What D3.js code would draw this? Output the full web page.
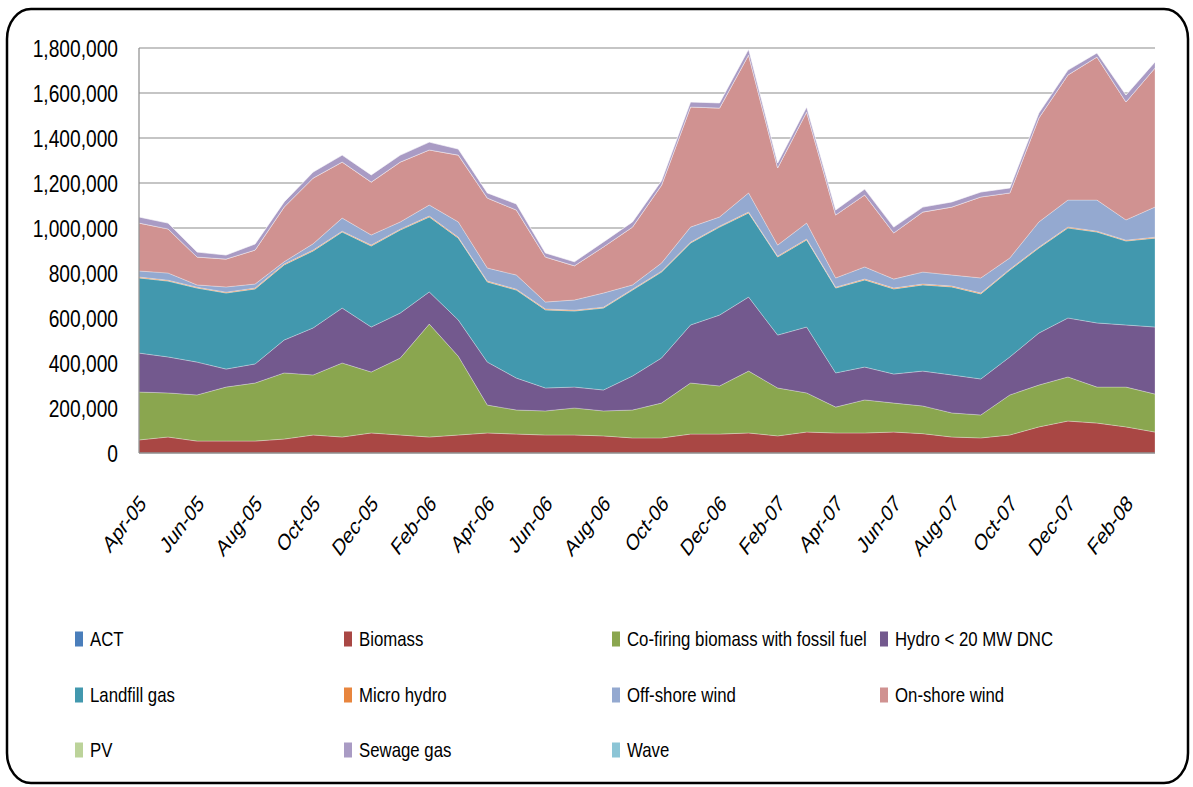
<!DOCTYPE html>
<html>
<head>
<meta charset="utf-8">
<script src="https://cdn.jsdelivr.net/npm/d3@7"></script>
<style>
  html, body { margin: 0; padding: 0; background: #ffffff; }
  svg { display: block; }
  text { font-family: "Liberation Sans", Arial, sans-serif; fill: #000; }
</style>
</head>
<body>
<svg id="chart" width="1193" height="787"></svg>
<script>
// ---- data ----
const months = ["Apr-05","May-05","Jun-05","Jul-05","Aug-05","Sep-05","Oct-05","Nov-05","Dec-05",
  "Jan-06","Feb-06","Mar-06","Apr-06","May-06","Jun-06","Jul-06","Aug-06","Sep-06","Oct-06","Nov-06","Dec-06",
  "Jan-07","Feb-07","Mar-07","Apr-07","May-07","Jun-07","Jul-07","Aug-07","Sep-07","Oct-07","Nov-07","Dec-07",
  "Jan-08","Feb-08","Mar-08"];
const tickLabels = ["Apr-05","Jun-05","Aug-05","Oct-05","Dec-05","Feb-06","Apr-06","Jun-06","Aug-06",
  "Oct-06","Dec-06","Feb-07","Apr-07","Jun-07","Aug-07","Oct-07","Dec-07","Feb-08"];
const yTicks = [0, 200000, 400000, 600000, 800000, 1000000, 1200000, 1400000, 1600000, 1800000];

const seriesNames = ["ACT","Biomass","Co-firing biomass with fossil fuel","Hydro < 20 MW DNC","Landfill gas",
  "Micro hydro","Off-shore wind","On-shore wind","PV","Sewage gas","Wave"];
const seriesColors = ["#4A7EBB","#A94744","#8AA64F","#73598E","#4298AE","#E8853D","#94A9D0","#D09291",
  "#BCD39A","#A99BC4","#8CC5D6"];

const act       = [0,0,0,0,0,0,0,0,0,0,0,0,0,0,0,0,0,0,0,0,0,0,0,0,0,0,0,0,0,0,0,0,0,0,0,0];
const biomass   = [58000,71000,53000,53000,53000,62000,80000,71000,89000,80000,71000,80000,89000,84000,80000,80000,76000,67000,
  67000,84000,84000,89000,76000,93000,89000,89000,93000,86000,71000,67000,80000,116000,142000,133000,116000,93000];
const cofiring  = [213000,196000,205000,240000,258000,294000,267000,329000,271000,342000,502000,350000,124000,107000,107000,120000,111000,124000,
  155000,227000,214000,275000,213000,174000,115000,147000,129000,123000,107000,102000,178000,186000,196000,160000,177000,169000];
const hydro     = [173000,160000,146000,80000,85000,146000,209000,244000,200000,200000,143000,161000,191000,142000,102000,93000,93000,151000,
  200000,258000,315000,329000,235000,293000,152000,146000,129000,155000,169000,160000,169000,231000,262000,285000,276000,298000];
const landfill  = [334000,337000,329000,338000,333000,334000,342000,338000,360000,369000,333000,364000,356000,391000,347000,338000,364000,382000,
  382000,364000,391000,374000,347000,387000,377000,387000,378000,383000,391000,378000,386000,378000,400000,404000,373000,395000];
const microHydro= [4000,4000,4000,4000,4000,4000,4000,4000,4000,4000,4000,4000,4000,4000,4000,4000,4000,4000,
  4000,4000,4000,4000,4000,4000,4000,4000,4000,4000,4000,4000,4000,4000,4000,4000,4000,4000];
const offshore  = [27000,32000,10000,23000,18000,10000,28000,58000,45000,32000,49000,68000,58000,63000,31000,45000,63000,19000,
  36000,67000,41000,85000,49000,71000,41000,54000,40000,53000,49000,67000,50000,112000,120000,138000,90000,134000];
const onshore   = [213000,196000,124000,124000,151000,243000,292000,249000,235000,266000,245000,297000,311000,289000,200000,152000,205000,257000,
  346000,534000,484000,613000,343000,494000,280000,320000,205000,267000,302000,360000,289000,462000,556000,636000,524000,618000];
const pv        = [0,0,0,0,0,0,0,0,0,0,0,0,0,0,0,0,0,0,0,0,0,0,0,0,0,0,0,0,0,0,0,0,0,0,0,0];
const sewage    = [27000,26000,22000,18000,27000,23000,27000,31000,32000,31000,35000,27000,23000,27000,18000,18000,22000,23000,
  20000,22000,23000,26000,22000,22000,22000,26000,26000,22000,23000,22000,22000,22000,22000,18000,31000,27000];
const wave      = [0,0,0,0,0,0,0,0,0,0,0,0,0,0,0,0,0,0,0,0,0,0,0,0,0,0,0,0,0,0,0,0,0,0,0,0];

const seriesValues = [act, biomass, cofiring, hydro, landfill, microHydro, offshore, onshore, pv, sewage, wave];

// ---- build table for d3.stack ----
const table = months.map((m, i) => {
  const row = { month: m };
  seriesNames.forEach((s, k) => { row[s] = seriesValues[k][i]; });
  return row;
});

const svg = d3.select("#chart");
const plot = { left: 139, right: 1155, top: 48, bottom: 453 };
const SX = 0.8; // horizontal squeeze of the text in the picture

// outer rounded frame
svg.append("rect")
  .attr("x", 7).attr("y", 9).attr("width", 1181).attr("height", 774)
  .attr("rx", 24).attr("ry", 30)
  .attr("fill", "#ffffff").attr("stroke", "#000").attr("stroke-width", 2.5);

const x = d3.scalePoint().domain(months).range([plot.left, plot.right]);
const y = d3.scaleLinear().domain([0, 1800000]).range([plot.bottom, plot.top]);

// gridlines
svg.append("g").selectAll("line").data(yTicks.filter(d => d > 0)).join("line")
  .attr("x1", plot.left).attr("x2", plot.right)
  .attr("y1", d => y(d)).attr("y2", d => y(d))
  .attr("stroke", "#8c8c8c").attr("stroke-width", 1.2);

// stacked areas
const stack = d3.stack().keys(seriesNames);
const layers = stack(table);
const area = d3.area()
  .x(d => x(d.data.month))
  .y0(d => y(d[0]))
  .y1(d => y(d[1]));

svg.append("g").selectAll("path").data(layers).join("path")
  .attr("d", area)
  .attr("fill", (d, i) => seriesColors[i])
  .attr("stroke", "rgba(255,255,255,0.35)")
  .attr("stroke-width", 0.8);

// axes lines
svg.append("line").attr("x1", plot.left).attr("x2", plot.left)
  .attr("y1", plot.top).attr("y2", plot.bottom)
  .attr("stroke", "#8c8c8c").attr("stroke-width", 1.2);
svg.append("line").attr("x1", plot.left).attr("x2", plot.right)
  .attr("y1", plot.bottom).attr("y2", plot.bottom)
  .attr("stroke", "#8c8c8c").attr("stroke-width", 1.5);

// y tick labels
const fmt = d3.format(",");
svg.append("g").selectAll("g").data(yTicks).join("g")
  .attr("transform", d => `translate(118,${y(d)}) scale(${SX},1)`)
  .append("text")
  .attr("text-anchor", "end")
  .attr("dy", "0.36em")
  .style("font-size", "24px")
  .text(d => fmt(d));

// x tick labels (rotated)
svg.append("g").selectAll("g").data(tickLabels).join("g")
  .attr("transform", d => `translate(${x(d) + 8},${plot.bottom + 52}) scale(0.76,1) rotate(-45)`)
  .append("text")
  .attr("text-anchor", "end")
  .style("font-size", "23px")
  .text(d => d);

// legend
const legCols = [75, 344, 612, 880];
const legRows = [639, 695, 750];
const leg = svg.append("g").selectAll("g").data(seriesNames).join("g")
  .attr("transform", (d, i) => `translate(${legCols[i % 4]},${legRows[Math.floor(i / 4)]})`);
leg.append("rect").attr("x", 0).attr("y", -7.5).attr("width", 8).attr("height", 15)
  .attr("fill", (d, i) => seriesColors[seriesNames.indexOf(d)]);
leg.append("g").attr("transform", `translate(15,0) scale(0.84,1)`)
  .append("text").attr("dy", "0.36em").style("font-size", "20px").text(d => d);
</script>
</body>
</html>
